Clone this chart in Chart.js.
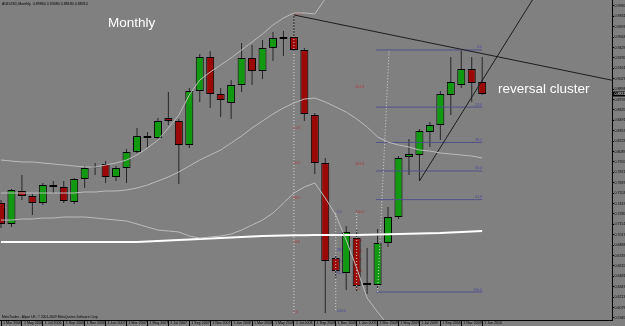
<!DOCTYPE html>
<html><head><meta charset="utf-8">
<script src="https://cdn.jsdelivr.net/npm/chart.js@4.4.1/dist/chart.umd.min.js"></script>
<style>html,body{margin:0;padding:0;background:#808080;overflow:hidden}canvas{display:block}</style>
</head><body>
<canvas id="c" width="625" height="326"></canvas>
<script>
// ---------- DATA ----------
const months = ['Mar 2006','Apr 2006','May 2006','Jun 2006','Jul 2006','Aug 2006','Sep 2006','Oct 2006','Nov 2006','Dec 2006',
 'Jan 2007','Feb 2007','Mar 2007','Apr 2007','May 2007','Jun 2007','Jul 2007','Aug 2007','Sep 2007','Oct 2007','Nov 2007','Dec 2007',
 'Jan 2008','Feb 2008','Mar 2008','Apr 2008','May 2008','Jun 2008','Jul 2008','Aug 2008','Sep 2008','Oct 2008','Nov 2008','Dec 2008',
 'Jan 2009','Feb 2009','Mar 2009','Apr 2009','May 2009','Jun 2009','Jul 2009','Aug 2009','Sep 2009','Oct 2009','Nov 2009','Dec 2009',
 'Jan 2010'];
const opens  = [0.7426,0.7156,0.7581,0.7517,0.7426,0.7658,0.7632,0.7439,0.7736,0.7884,0.7929,0.7761,0.7877,0.8083,0.8290,0.8264,0.8522,0.8483,0.8174,0.8870,0.9308,0.8831,0.8715,0.8947,0.9295,0.9127,0.9424,0.9540,0.9565,0.9398,0.8560,0.7942,0.6717,0.6524,0.6975,0.6370,0.6370,0.6911,0.7246,0.8019,0.8045,0.8341,0.8431,0.8818,0.8947,0.9153,0.8986];
const highs  = [0.7465,0.7607,0.7787,0.7542,0.7684,0.7710,0.7710,0.7748,0.7903,0.7942,0.7968,0.7903,0.8122,0.8393,0.8341,0.8522,0.8857,0.8509,0.8908,0.9346,0.9385,0.8908,0.9011,0.9488,0.9462,0.9527,0.9630,0.9643,0.9849,0.9424,0.8586,0.8006,0.6743,0.7130,0.7078,0.6846,0.7091,0.7375,0.8032,0.8251,0.8380,0.8470,0.8870,0.9308,0.9385,0.9308,0.9308];
const lows   = [0.7104,0.7117,0.7465,0.7272,0.7401,0.7555,0.7426,0.7413,0.7620,0.7787,0.7684,0.7710,0.7684,0.8071,0.8148,0.8251,0.8431,0.7671,0.8135,0.8728,0.8651,0.8535,0.8509,0.8857,0.8947,0.9024,0.9256,0.9321,0.9372,0.8483,0.7800,0.6009,0.6460,0.6305,0.6292,0.6254,0.6331,0.6859,0.7220,0.7787,0.7710,0.8148,0.8238,0.8560,0.8908,0.8728,0.8818];
const closes = [0.7156,0.7594,0.7517,0.7426,0.7658,0.7632,0.7452,0.7736,0.7877,0.7897,0.7761,0.7877,0.8083,0.8290,0.8264,0.8483,0.8483,0.8174,0.8870,0.9308,0.8831,0.8754,0.8947,0.9295,0.9127,0.9424,0.9553,0.9565,0.9398,0.8573,0.7942,0.6679,0.6550,0.7053,0.6357,0.6395,0.6911,0.7246,0.8006,0.8058,0.8354,0.8431,0.8831,0.8986,0.9153,0.8973,0.8831];

const bbUpper  = [0.7980,0.7967,0.7955,0.7955,0.7942,0.7929,0.7916,0.7903,0.7890,0.7890,0.7916,0.7942,0.7980,0.8045,0.8135,0.8238,0.8393,0.8560,0.8818,0.9011,0.9114,0.9205,0.9295,0.9398,0.9501,0.9604,0.9720,0.9810,0.9875,0.9875,0.9862,1.0060,1.0200,1.0300,1.0350,1.0400,1.0400,1.0380,1.0350,1.0300,1.0250,1.0200,1.0150,1.0120,1.0100,1.0080,1.0060];
const bbMiddle = [0.7555,0.7555,0.7555,0.7555,0.7555,0.7555,0.7555,0.7555,0.7568,0.7568,0.7581,0.7581,0.7594,0.7620,0.7658,0.7710,0.7761,0.7826,0.7903,0.7980,0.8045,0.8109,0.8199,0.8290,0.8393,0.8483,0.8573,0.8651,0.8715,0.8766,0.8779,0.8728,0.8663,0.8599,0.8509,0.8406,0.8277,0.8212,0.8174,0.8148,0.8109,0.8096,0.8071,0.8058,0.8045,0.8032,0.8006];
const bbLower  = [0.7207,0.7207,0.7220,0.7220,0.7233,0.7233,0.7246,0.7246,0.7246,0.7233,0.7220,0.7207,0.7194,0.7156,0.7117,0.7078,0.7066,0.7053,0.7001,0.6975,0.6988,0.7001,0.7027,0.7078,0.7143,0.7207,0.7297,0.7426,0.7555,0.7632,0.7684,0.7491,0.7272,0.6949,0.6589,0.6202,0.6022,0.5854,0.5790,0.5751,0.5738,0.5751,0.5777,0.5815,0.5854,0.5880,0.5906];
const maWhite  = [0.6924,0.6924,0.6924,0.6924,0.6924,0.6924,0.6924,0.6924,0.6924,0.6924,0.6924,0.6924,0.6924,0.6924,0.6930,0.6937,0.6943,0.6949,0.6956,0.6962,0.6968,0.6975,0.6981,0.6988,0.6994,0.7001,0.7004,0.7007,0.7010,0.7012,0.7014,0.7014,0.7014,0.7014,0.7014,0.7017,0.7020,0.7024,0.7027,0.7030,0.7033,0.7037,0.7040,0.7046,0.7053,0.7059,0.7066];

const priceTicks = [0.9965,0.9831,0.9697,0.9563,0.9429,0.9295,0.9161,0.9027,0.8893,0.8759,0.8625,0.8491,0.8357,0.8223,0.8089,0.7955,0.7821,0.7687,0.7553,0.7419,0.7285,0.7151,0.7017,0.6883,0.6749,0.6615,0.6481,0.6347,0.6213,0.6079,0.5945];
const dateTickIndex = [0,2,4,6,8,10,12,14,16,18,20,22,24,26,28,30,32,34,36,38,40,42,44,46];

// trendlines: [index, price] anchor pairs
const trendDownIdx = [28, 58.5];   const trendDownPrice = [0.9849, 0.9006];
const trendUpIdx   = [40, 50.8];   const trendUpPrice   = [0.7710, 1.0042];

// fibonacci objects
const fibLevelNames = ['100.0','61.8','50.0','38.2','23.6','0.0'];
const fibRedAIdx = 28;   const fibRedAPrices = [0.9849,0.8382,0.7929,0.7476,0.6915,0.6009];
const fibBlueIdx = 32;   const fibBlueNames = ['0.0','23.6','38.2','50.0','61.8','100.0'];
const fibBluePrices = [0.7297,0.6996,0.6810,0.6660,0.6509,0.6022];
const fibRedBIdx = 34;   const fibRedBNames = ['261.8','161.8','100.0','61.8','50.0','38.2','23.6','0.0'];
const fibRedBPrices = [0.8902,0.7918,0.7297,0.6918,0.6801,0.6684,0.6539,0.6305];
const fibRightFrom = 35.85; const fibRightTo = 46.0;
const fibRightNames = ['0.0','23.6','38.2','50.0','61.8','100.0'];
const fibRightPrices = [0.9398,0.8662,0.8207,0.7839,0.7470,0.6279];
const fibRightDiagIdx = [36.0, 37.1]; const fibRightDiagPrice = [0.6279, 0.9398];

const monthlyAt = [10.23, 0.9694];
const clusterAt = [47.51, 0.8844];

// ---------- CHART ----------
const F = "'Liberation Sans', Arial, sans-serif";
const UP = '#119a11', DOWN = '#9b0808';
const idx = months.map((_, i) => i);
const xy = (xs, ys) => xs.map((x, k) => ({x: x, y: ys[k]}));
const lineDs = (data, color, width, dash, order) => ({
  type: 'line', data, borderColor: color, borderWidth: width, borderDash: dash || [],
  pointRadius: 0, tension: 0, fill: false, order: order || 1
});

const datasets = [
  lineDs(xy(idx, bbUpper), '#bcbcbc', 1),
  lineDs(xy(idx, bbMiddle), '#bcbcbc', 1),
  lineDs(xy(idx, bbLower), '#bcbcbc', 1),
  lineDs(xy(idx, maWhite), '#ffffff', 2),
  lineDs(xy(trendDownIdx, trendDownPrice), '#1c1c1c', 1),
  lineDs(xy(trendUpIdx, trendUpPrice), '#1c1c1c', 1),
  lineDs(xy([fibRedAIdx, fibRedAIdx], [fibRedAPrices[0], fibRedAPrices[5]]), '#d6d6d6', 1, [1, 2]),
  lineDs(xy([fibBlueIdx, fibBlueIdx], [fibBluePrices[0], fibBluePrices[5]]), '#d6d6d6', 1, [1, 2]),
  lineDs(xy([fibRedBIdx, fibRedBIdx], [fibRedBPrices[2], fibRedBPrices[7]]), '#d6d6d6', 1, [1, 2]),
  lineDs(xy(fibRightDiagIdx, fibRightDiagPrice), '#d6d6d6', 1, [1, 2]),
];
fibRightPrices.forEach(p => datasets.push(lineDs(xy([fibRightFrom, fibRightTo], [p, p]), '#50508a', 1)));
datasets.push({
  type: 'bar', data: idx.map(i => ({x: i, y: [lows[i], highs[i]]})),
  backgroundColor: '#262626', barThickness: 1, grouped: false, inflateAmount: 0, order: 6
});
datasets.push({
  type: 'bar', data: idx.map(i => ({x: i, y: [Math.min(opens[i], closes[i]), Math.max(opens[i], closes[i])]})),
  backgroundColor: idx.map(i => closes[i] >= opens[i] ? UP : DOWN),
  borderColor: '#000', borderWidth: 1, borderSkipped: false, barThickness: 8, grouped: false, inflateAmount: 0, order: 5
});

const bgPlugin = {
  id: 'bg',
  beforeDraw(chart) {
    const c = chart.ctx; c.save(); c.fillStyle = '#808080'; c.fillRect(0, 0, chart.width, chart.height); c.restore();
  }
};
function txt(c, s, x, y, color, size, align, base) {
  c.fillStyle = color; c.font = size + 'px ' + F; c.textAlign = align || 'left'; c.textBaseline = base || 'middle';
  c.fillText(s, x, y);
}
const fibTextPlugin = {
  id: 'fibText',
  beforeDatasetsDraw(chart) {
    const c = chart.ctx, xs = chart.scales.x, ys = chart.scales.y;
    c.save();
    const xa = xs.getPixelForValue(fibRedAIdx);
    fibRedAPrices.forEach((p, k) => txt(c, fibLevelNames[k], xa - 1, ys.getPixelForValue(p) - 1, '#a83c3c', 3.6));
    const xb = xs.getPixelForValue(fibBlueIdx);
    fibBluePrices.forEach((p, k) => txt(c, fibBlueNames[k], xb + 1, ys.getPixelForValue(p) - 1, '#4a4aa0', 3.6));
    const xr = xs.getPixelForValue(fibRedBIdx);
    fibRedBPrices.forEach((p, k) => txt(c, fibRedBNames[k], xr - 1.5, ys.getPixelForValue(p) - 1, '#a83c3c', 3.6));
    const xe = xs.getPixelForValue(fibRightTo);
    fibRightPrices.forEach((p, k) => txt(c, fibRightNames[k], xe, ys.getPixelForValue(p) - 2.5, '#4a4aa0', 3.6, 'right'));
    c.restore();
  }
};
const notePlugin = {
  id: 'notes',
  afterDraw(chart) {
    const c = chart.ctx, xs = chart.scales.x, ys = chart.scales.y;
    c.save();
    txt(c, 'Monthly', xs.getPixelForValue(monthlyAt[0]), ys.getPixelForValue(monthlyAt[1]), '#ffffff', 13.5, 'left', 'alphabetic');
    txt(c, 'reversal cluster', xs.getPixelForValue(clusterAt[0]), ys.getPixelForValue(clusterAt[1]), '#ffffff', 13.5, 'left', 'alphabetic');
    const n = closes.length - 1;
    txt(c, 'AUDUSD,Monthly  ' + [opens[n], highs[n], lows[n], closes[n]].map(v => v.toFixed(5)).join(' '), 2, 4, '#000', 3.6);
    txt(c, 'MetaTrader - Alpari UK, \u00a9 2001-2009 MetaQuotes Software Corp.', 2, chart.chartArea.bottom - 3, '#000', 3.3);
    const yp = ys.getPixelForValue(closes[n]);
    c.fillStyle = '#000'; c.fillRect(ys.left + 1, yp - 2.5, 13, 5);
    txt(c, closes[n].toFixed(5), ys.left + 2.5, yp, '#ffffff', 3.6);
    c.restore();
  }
};

new Chart(document.getElementById('c'), {
  type: 'bar',
  data: {datasets},
  plugins: [bgPlugin, fibTextPlugin, notePlugin],
  options: {
    responsive: false, animation: false, devicePixelRatio: 1,
    layout: {padding: 0},
    plugins: {legend: {display: false}, tooltip: {enabled: false}},
    scales: {
      x: {
        type: 'linear', min: -0.096, max: 58.41, offset: false,
        grid: {display: true, drawOnChartArea: false, drawTicks: true, tickLength: 6, color: '#000', lineWidth: 1, offset: false},
        border: {display: true, color: '#000', width: 1},
        ticks: {autoSkip: false, maxRotation: 0, minRotation: 0, align: 'start', padding: -5, labelOffset: 2,
                font: {family: F, size: 3.6}, color: '#000', callback: v => '1 ' + months[v]},
        afterBuildTicks: s => { s.ticks = dateTickIndex.map(v => ({value: v})); },
        afterFit: s => { s.height = 6; s.paddingLeft = 0; s.paddingRight = 0; }
      },
      y: {
        type: 'linear', position: 'right', min: 0.5919, max: 1.0042,
        grid: {display: true, drawOnChartArea: false, drawTicks: true, tickLength: 2, color: '#000'},
        border: {display: true, color: '#000', width: 1},
        ticks: {autoSkip: false, padding: 0.5, font: {family: F, size: 3.6}, color: '#000', callback: v => v.toFixed(5)},
        afterBuildTicks: s => { s.ticks = priceTicks.map(v => ({value: v})); },
        afterFit: s => { s.width = 13; s.paddingTop = 0; s.paddingBottom = 0; }
      }
    }
  }
});
</script>
</body></html>
